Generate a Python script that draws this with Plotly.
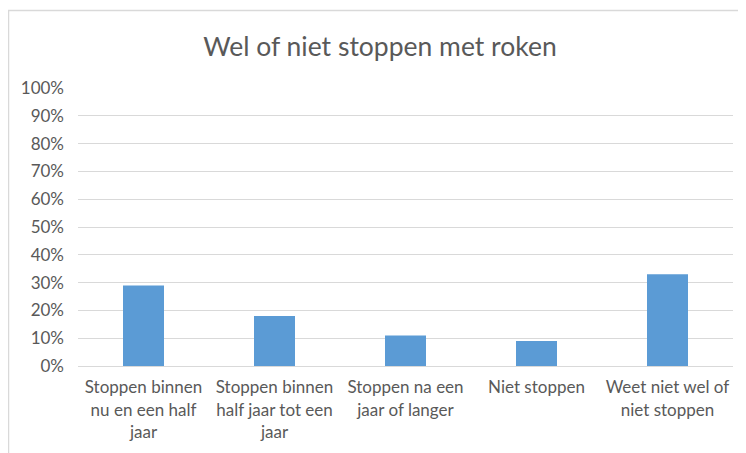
import plotly.graph_objects as go

categories = [
    "Stoppen binnen<br>nu en een half<br>jaar",
    "Stoppen binnen<br>half jaar tot een<br>jaar",
    "Stoppen na een<br>jaar of langer",
    "Niet stoppen",
    "Weet niet wel of<br>niet stoppen",
]
values = [0.29, 0.18, 0.11, 0.09, 0.33]
title_text = "Wel of niet stoppen met roken"
tick_vals = [i / 10 for i in range(11)]
tick_text = [f"{i * 10}%" for i in range(11)]

font_family = "Lato, Open Sans, sans-serif"
text_color = "#595959"

W, H = 738, 445
L, R, T, B = 70, 13, 80, 87
PW = W - L - R
PH = H - T - B

fig = go.Figure(
    go.Bar(
        x=categories,
        y=values,
        marker=dict(color="#5B9BD5", line=dict(width=0)),
        width=0.313,
    )
)

fig.update_layout(
    width=W,
    height=H,
    margin=dict(l=L, r=R, t=T, b=B),
    paper_bgcolor="white",
    plot_bgcolor="white",
    showlegend=False,
    title=dict(
        text=title_text,
        x=(380 - 8) / W,
        xanchor="center",
        y=1 - 39 / H,
        yanchor="middle",
        yref="container",
        font=dict(family=font_family, size=26.5, color=text_color),
    ),
    font=dict(family=font_family, size=17, color=text_color),
    xaxis=dict(
        showgrid=False,
        showline=True,
        linecolor="#D9D9D9",
        linewidth=1,
        ticks="",
        ticklabelstandoff=6,
        tickfont=dict(size=17, color=text_color),
    ),
    yaxis=dict(
        range=[0, 1.0],
        tickvals=tick_vals,
        ticktext=tick_text,
        showgrid=True,
        gridcolor="#D9D9D9",
        gridwidth=1,
        zeroline=False,
        showline=False,
        ticks="",
        ticklabelstandoff=13,
        tickfont=dict(size=17, color=text_color),
    ),
    shapes=[
        dict(
            type="rect",
            xref="paper",
            yref="paper",
            x0=(0.5 - L) / PW,
            x1=1.5,
            y0=-0.5,
            y1=(H - B - 2.5) / PH,
            line=dict(color="#D9D9D9", width=1.5),
            fillcolor="rgba(0,0,0,0)",
            layer="below",
        )
    ],
)

fig.write_html("out.html")
